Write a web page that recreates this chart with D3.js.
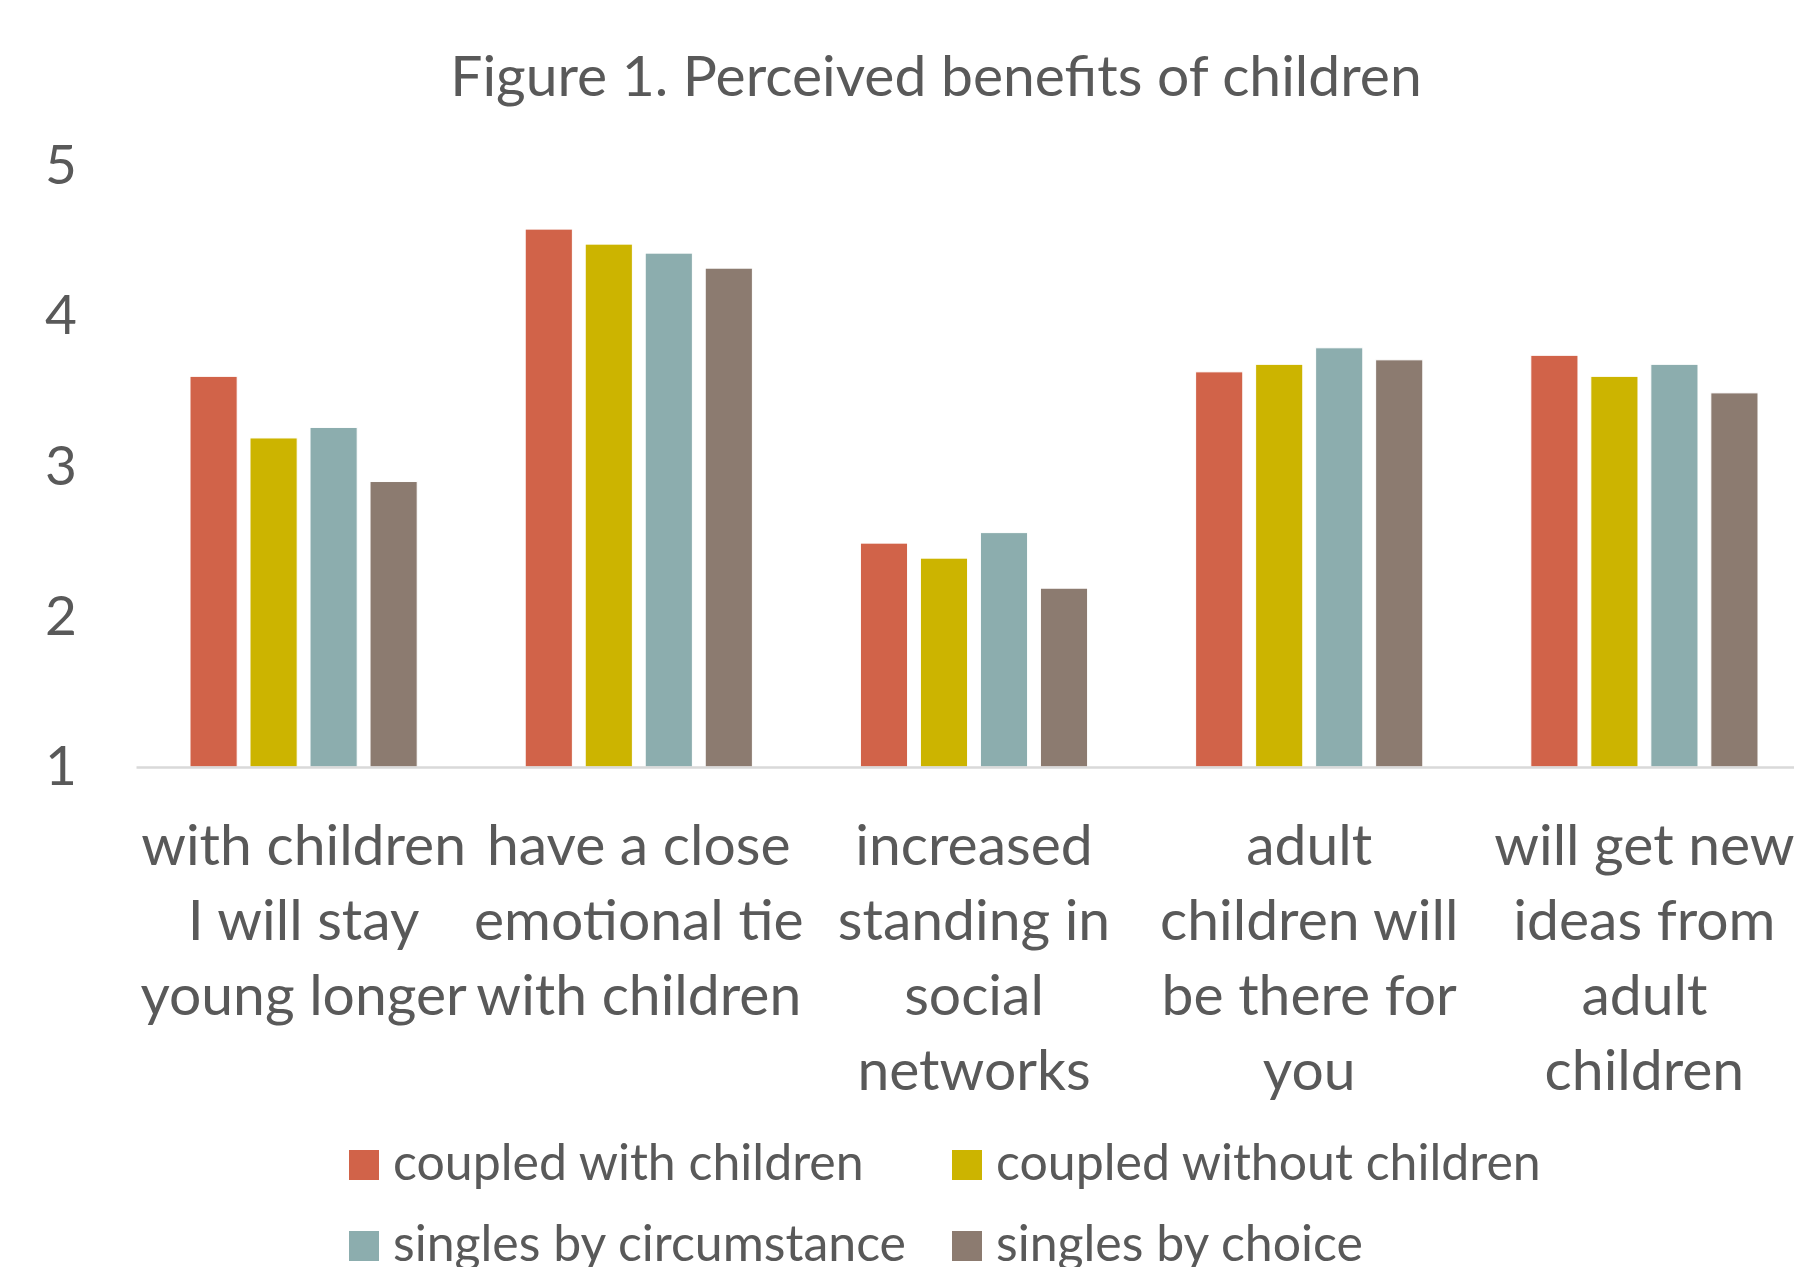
<!DOCTYPE html>
<html>
<head>
<meta charset="utf-8">
<script src="https://cdn.jsdelivr.net/npm/d3@7"></script>
<style>
  body { margin: 0; background: #ffffff; }
  text { font-family: Lato, "Open Sans", sans-serif; fill: #595959; }
</style>
</head>
<body>
<div id="container"></div>
<script>
// chart data
var categories = ["young", "tie", "standing", "there", "ideas"];
var categoryLines = [
  ["with children", "I will stay", "young longer"],
  ["have a close", "emotional tie", "with children"],
  ["increased", "standing in", "social", "networks"],
  ["adult", "children will", "be there for", "you"],
  ["will get new", "ideas from", "adult", "children"]
];
var seriesNames = ["coupled with children", "coupled without children",
                   "singles by circumstance", "singles by choice"];
var coupledWith = [3.60, 4.58, 2.49, 3.63, 3.74];
var coupledWithout = [3.19, 4.48, 2.39, 3.68, 3.60];
var singlesCircumstance = [3.26, 4.42, 2.56, 3.79, 3.68];
var singlesChoice = [2.90, 4.32, 2.19, 3.71, 3.49];
var yTicks = [1, 2, 3, 4, 5];

var colors = ["#D16349", "#CCB400", "#8CADAE", "#8C7B70"];
var seriesValues = [coupledWith, coupledWithout, singlesCircumstance, singlesChoice];

var width = 1794, height = 1267;
var titleSize = 57, labelSize = 57, tickSize = 55, legendSize = 50;

// plot area (runs past the right edge, like the original)
var plotLeft = 136, plotRight = 1812, plotTop = 166, plotBottom = 767;

var svg = d3.select("#container").append("svg")
    .attr("width", width)
    .attr("height", height);

svg.append("rect")
    .attr("width", width)
    .attr("height", height)
    .attr("fill", "#ffffff");

var x0 = d3.scaleBand()
    .domain(categories)
    .range([plotLeft, plotRight])
    .paddingInner(0)
    .paddingOuter(0);

var x1 = d3.scaleBand()
    .domain(d3.range(seriesNames.length))
    .range([0, x0.bandwidth()])
    .paddingInner(0.214)
    .paddingOuter(0.9);

var y = d3.scaleLinear()
    .domain([1, 5])
    .range([plotBottom, plotTop]);

// title
svg.append("text")
    .attr("x", 936)
    .attr("y", 96)
    .attr("text-anchor", "middle")
    .style("font-size", titleSize + "px")
    .text("Figure 1. Perceived benefits of children");

// y axis labels
var yAxis = svg.append("g")
    .attr("transform", "translate(" + plotLeft + ",0)")
    .call(d3.axisLeft(y).tickValues(yTicks).tickSize(0).tickPadding(59).tickFormat(d3.format("d")));
yAxis.select(".domain").remove();
yAxis.selectAll("text")
    .style("font-family", "Lato, sans-serif")
    .style("font-size", tickSize + "px")
    .attr("fill", "#595959");

// bars
var groups = svg.selectAll(".group")
    .data(categories)
    .enter().append("g")
    .attr("class", "group")
    .attr("transform", function(d) { return "translate(" + x0(d) + ",0)"; });

groups.selectAll("rect")
    .data(function(d, i) {
      return seriesValues.map(function(s, j) { return {series: j, value: s[i]}; });
    })
    .enter().append("rect")
    .attr("x", function(d) { return x1(d.series); })
    .attr("y", function(d) { return y(d.value); })
    .attr("width", x1.bandwidth())
    .attr("height", function(d) { return y(1) - y(d.value); })
    .attr("fill", function(d) { return colors[d.series]; })
    .attr("stroke", "#ffffff")
    .attr("stroke-width", 1);

// x axis baseline and wrapped category labels
var xAxis = svg.append("g")
    .attr("transform", "translate(0," + plotBottom + ")")
    .call(d3.axisBottom(x0).tickSize(0).tickFormat(""));
xAxis.select(".domain")
    .attr("stroke", "#D9D9D9")
    .attr("stroke-width", 2.5);

var catLabels = svg.selectAll(".catlabel")
    .data(categories)
    .enter().append("text")
    .attr("class", "catlabel")
    .attr("text-anchor", "middle")
    .style("font-size", labelSize + "px");

catLabels.each(function(d, i) {
  var t = d3.select(this);
  categoryLines[i].forEach(function(line, k) {
    t.append("tspan")
      .attr("x", x0(d) + x0.bandwidth() / 2)
      .attr("y", 865 + k * 75)
      .text(line);
  });
});

// legend
var legendPos = [[349, 1150], [952, 1150], [349, 1231], [952, 1231]];
var legend = svg.selectAll(".legend")
    .data(seriesNames)
    .enter().append("g")
    .attr("class", "legend")
    .attr("transform", function(d, i) { return "translate(" + legendPos[i][0] + "," + legendPos[i][1] + ")"; });

legend.append("rect")
    .attr("width", 30)
    .attr("height", 30)
    .attr("fill", function(d, i) { return colors[i]; });

legend.append("text")
    .attr("x", 44)
    .attr("y", 30)
    .style("font-size", legendSize + "px")
    .text(function(d) { return d; });
</script>
</body>
</html>
